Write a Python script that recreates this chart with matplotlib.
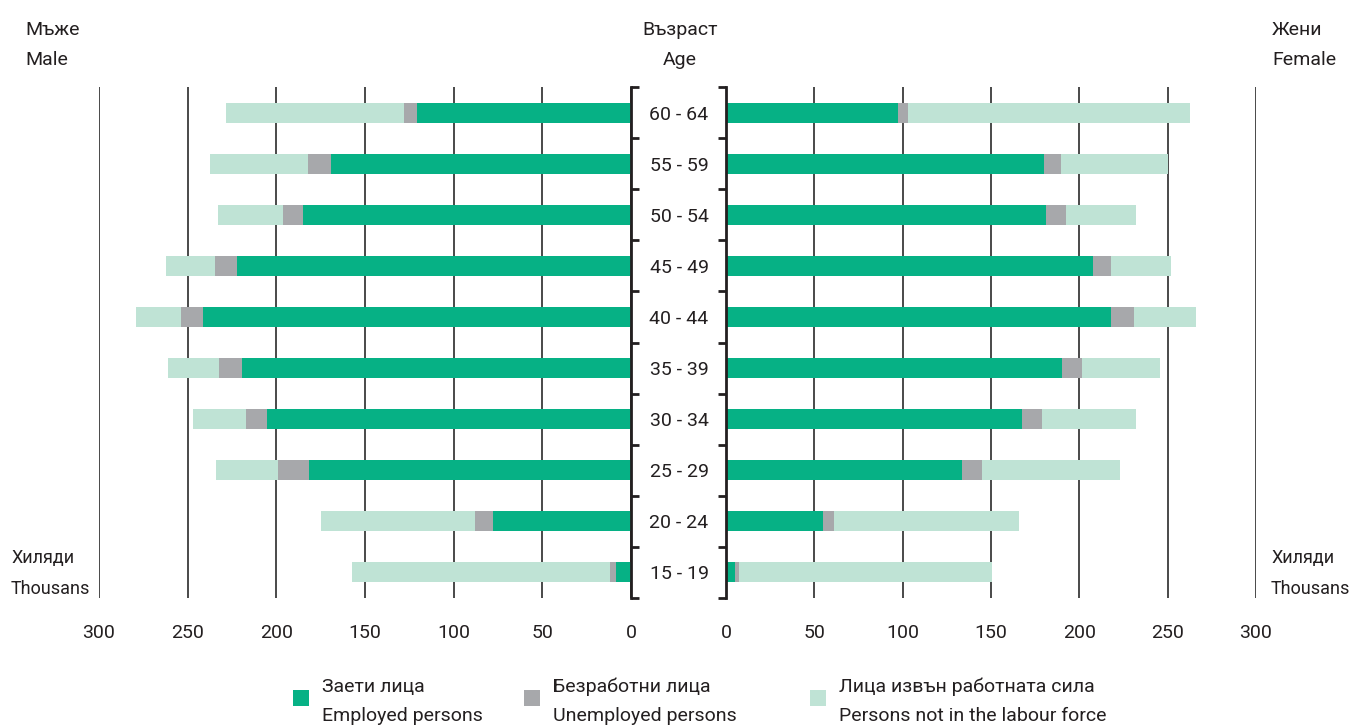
import numpy as np
import matplotlib
matplotlib.use('Agg')
import matplotlib.pyplot as plt
from matplotlib.patches import Rectangle

plt.rcParams['font.family'] = ['Roboto', 'DejaVu Sans']

# данни, хиляди (от 15-19 нагоре)
ages = ['15 - 19', '20 - 24', '25 - 29', '30 - 34', '35 - 39',
        '40 - 44', '45 - 49', '50 - 54', '55 - 59', '60 - 64']
male_employed = [8.7, 77.8, 181.5, 205.0, 219.4, 241.3, 222.2, 184.7, 169.2, 120.6]
male_unemployed = [3.4, 10.1, 17.7, 11.9, 12.9, 12.7, 12.5, 11.5, 12.7, 7.6]
male_inactive = [145.2, 87.1, 34.9, 30.3, 28.8, 25.4, 27.6, 36.9, 55.4, 100.0]
female_employed = [5.2, 55.0, 133.6, 167.6, 190.4, 218.0, 207.9, 181.3, 180.1, 97.5]
female_unemployed = [2.1, 6.1, 11.5, 11.3, 11.1, 12.9, 10.1, 10.9, 9.7, 5.5]
female_inactive = [143.0, 104.9, 78.2, 53.2, 43.9, 35.1, 33.7, 39.9, 60.2, 159.5]
xticks = [0, 50, 100, 150, 200, 250, 300]
legend_labels = [('Заети лица', 'Employed persons'),
                 ('Безработни лица', 'Unemployed persons'),
                 ('Лица извън работната сила', 'Persons not in the labour force')]

c_emp = '#06b185'
c_unemp = '#a7a8ab'
c_inact = '#bfe3d5'
tc = '#231f20'
fs = 14
W, H = 1351, 727

fig = plt.figure(figsize=(W/100, H/100), dpi=100)
axL = fig.add_axes([99/W, 1-598/H, 532/W, 511/H])
axR = fig.add_axes([726/W, 1-598/H, 530/W, 511/H])

y = np.arange(len(ages))
h = 0.39

for ax, emp, unemp, inact in [(axL, male_employed, male_unemployed, male_inactive),
                              (axR, female_employed, female_unemployed, female_inactive)]:
    emp = np.array(emp)
    unemp = np.array(unemp)
    inact = np.array(inact)
    ax.barh(y, emp, height=h, color=c_emp, zorder=3)
    ax.barh(y, unemp, left=emp, height=h, color=c_unemp, zorder=3)
    ax.barh(y, inact, left=emp + unemp, height=h, color=c_inact, zorder=3)
    ax.set_ylim(-0.5, len(ages) - 0.5)
    ax.set_yticks(np.arange(-0.5, len(ages), 1))
    ax.set_yticklabels([])
    ax.tick_params(axis='y', direction='out', length=6, width=2, color=tc)
    ax.set_xticks(xticks)
    ax.set_xticklabels([str(t) for t in xticks], fontsize=fs, color=tc)
    ax.tick_params(axis='x', length=0, pad=19)
    ax.grid(axis='x', color='#3a3a3a', linewidth=1.3, zorder=0)
    for s in ax.spines.values():
        s.set_visible(False)

axL.set_xlim(300, 0)
axL.yaxis.tick_right()
axR.set_xlim(0, 300)
for ax, side in [(axL, 'right'), (axR, 'left')]:
    ax.spines[side].set_visible(True)
    ax.spines[side].set_linewidth(2)
    ax.spines[side].set_color(tc)
    ax.spines[side].set_zorder(4)

# възрастови групи в средата
for i, a in enumerate(ages):
    axL.annotate(a, xy=(1.0, (i + 0.5) / len(ages)), xycoords='axes fraction',
                 xytext=(48, 0), textcoords='offset pixels',
                 ha='center', va='center_baseline', fontsize=fs, color=tc)

def two_lines(x, y1, y2, a, b, ha='left', size=fs):
    fig.text(x/W, 1-y1/H, a, ha=ha, va='baseline', fontsize=size, color=tc)
    fig.text(x/W, 1-y2/H, b, ha=ha, va='baseline', fontsize=size, color=tc)

two_lines(25, 35, 65, 'Мъже', 'Male')
two_lines(680, 35, 65, 'Възраст', 'Age', ha='center')
two_lines(1272, 35, 65, 'Жени', 'Female')
two_lines(11, 563, 594, 'Хиляди', 'Thousans', size=13)
two_lines(1271, 563, 594, 'Хиляди', 'Thousans', size=13)

# легенда
for xs, col, (a, b) in zip([293, 524, 810], [c_emp, c_unemp, c_inact], legend_labels):
    fig.add_artist(Rectangle((xs/W, 1-706/H), 16/W, 16/H, transform=fig.transFigure,
                             facecolor=col, edgecolor='none'))
    two_lines(xs + 29, 692, 721, a, b)

fig.savefig('out.png', dpi=100)
